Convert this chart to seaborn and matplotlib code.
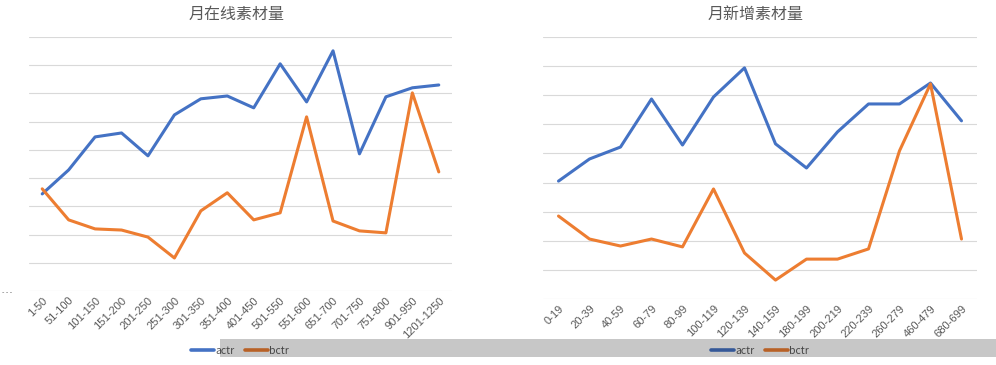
"""
Two Excel-style line charts: monthly online / newly added material vs ctr.
"""

import matplotlib.pyplot as plt
import matplotlib.patches as mpatches
import matplotlib.lines as mlines
import pandas as pd
import seaborn as sns

sns.set_style("white")
plt.rcParams["font.family"] = ["Noto Sans CJK SC", "DejaVu Sans"]

BLUE = "#4472c4"
ORANGE = "#ed7d31"
GRID = "#d9d9d9"
TEXT = "#595959"

# --- data (one gridline = 1 unit) ---
online_bins = ["1-50", "51-100", "101-150", "151-200", "201-250", "251-300",
               "301-350", "351-400", "401-450", "501-550", "551-600", "651-700",
               "701-750", "751-800", "901-950", "1201-1250"]
online_actr = [3.44, 4.29, 5.46, 5.60, 4.79, 6.24, 6.81, 6.91,
               6.49, 8.05, 6.70, 8.51, 4.86, 6.88, 7.20, 7.30]
online_bctr = [3.62, 2.52, 2.20, 2.16, 1.91, 1.17, 2.84, 3.48,
               2.52, 2.77, 6.17, 2.48, 2.13, 2.06, 7.02, 4.22]

new_bins = ["0-19", "20-39", "40-59", "60-79", "80-99", "100-119", "120-139",
            "140-159", "180-199", "200-219", "220-239", "260-279", "460-479",
            "680-699"]
new_actr = [4.05, 4.81, 5.22, 6.87, 5.29, 6.94, 7.94,
            5.33, 4.50, 5.74, 6.70, 6.70, 7.42, 6.12]
new_bctr = [2.85, 2.06, 1.82, 2.06, 1.79, 3.78, 1.58,
            0.65, 1.37, 1.37, 1.72, 5.09, 7.39, 2.06]


def long_frame(bins, actr, bctr):
    df = pd.DataFrame({"bin": bins, "actr": actr, "bctr": bctr})
    df["pos"] = range(len(bins))
    return df.melt(id_vars=["bin", "pos"], value_vars=["actr", "bctr"],
                   var_name="series", value_name="value")


W, H = 996, 365
fig = plt.figure(figsize=(W / 100, H / 100), dpi=100)


def px_axes(x0, x1, y_top, y_bot):
    return fig.add_axes([x0 / W, 1 - y_bot / H, (x1 - x0) / W, (y_bot - y_top) / H])


panels = [
    ("月在线素材量", online_bins, online_actr, online_bctr, (29, 452, 37, 291), 237, 240),
    ("月新增素材量", new_bins, new_actr, new_bctr, (543, 977, 37, 299), 756, 760),
]

for title, bins, actr, bctr, box, title_x, legend_x in panels:
    ax = px_axes(*box)
    df = long_frame(bins, actr, bctr)
    sns.lineplot(data=df, x="pos", y="value", hue="series",
                 palette={"actr": BLUE, "bctr": ORANGE}, linewidth=2.2,
                 legend=False, ax=ax, zorder=3)

    n = len(bins)
    ax.set_xlim(-0.5, n - 0.5)
    ax.set_ylim(0, 9)
    ax.set_yticks(range(10))
    ax.set_yticklabels([])
    ax.grid(axis="y", color=GRID, linewidth=0.8)
    ax.grid(axis="x", visible=False)
    ax.set_xticks(range(n))
    ax.set_xticklabels(bins, rotation=45, ha="right", rotation_mode="anchor",
                       fontsize=8, color=TEXT, family="Liberation Sans")
    ax.tick_params(length=0, pad=3)
    ax.set_xlabel("")
    ax.set_ylabel("")
    for s in ax.spines.values():
        s.set_visible(False)

    fig.text(title_x / W, 1 - 14 / H, title, ha="center", va="center",
             fontsize=11.5, color=TEXT)

    handles = [mlines.Line2D([], [], color=BLUE, linewidth=2.6),
               mlines.Line2D([], [], color=ORANGE, linewidth=2.6)]
    fig.legend(handles, ["actr", "bctr"], loc="center",
               bbox_to_anchor=(legend_x / W, 1 - 351 / H), ncol=2,
               frameon=False, fontsize=7.5, handlelength=2.2,
               handletextpad=0.15, columnspacing=1.0, labelcolor=TEXT)

# cut-off fragment at the left edge
fig.text(2 / W, 1 - 293 / H, "- - -", fontsize=5, color=TEXT, va="center")

# grey screenshot band over the legend row
fig.patches.append(mpatches.Rectangle((220 / W, 1 - 357 / H), (W - 220) / W, 18 / H,
                                      transform=fig.transFigure, facecolor="black",
                                      alpha=0.22, edgecolor="none", zorder=10))

fig.savefig("out.png", dpi=100)
